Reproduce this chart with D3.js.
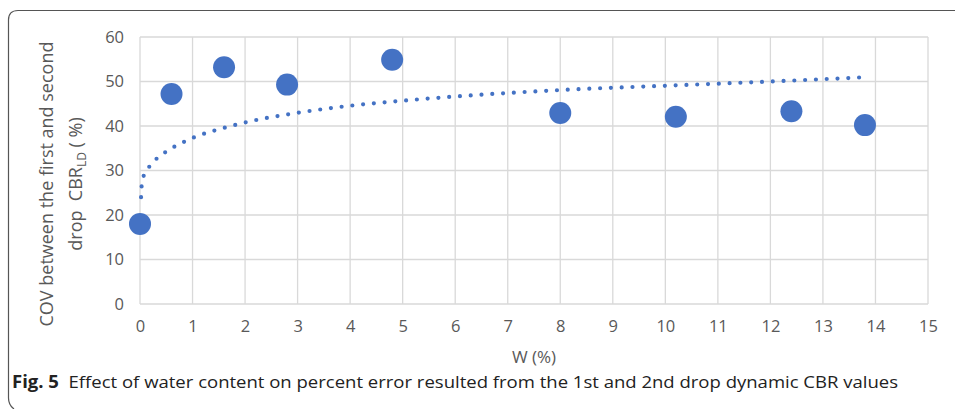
<!DOCTYPE html>
<html>
<head>
<meta charset="utf-8">
<script src="https://cdn.jsdelivr.net/npm/d3@7"></script>
<style>
  body { margin: 0; background: #fff; }
  svg { display: block; }
</style>
</head>
<body>
<div id="chart"></div>
<script>
// measured points: water content W (%) vs COV (%)
const waterContent = [0.0, 0.6, 1.6, 2.8, 4.8, 8.0, 10.2, 12.4, 13.8];
const covValues = [18.0, 47.2, 53.2, 49.3, 54.9, 42.9, 42.1, 43.3, 40.2];

// logarithmic trendline
const trendX = [0.02, 0.03, 0.07, 0.18, 0.32, 0.48, 0.66, 0.85, 1.04, 1.64, 2.04, 2.86, 3.89, 4.92, 5.97, 8.04, 10.13, 12.21, 13.7];
const trendY = [24.0, 26.4, 28.8, 30.9, 32.7, 34.1, 35.4, 36.5, 37.5, 39.7, 40.9, 42.7, 44.4, 45.6, 46.6, 48.1, 49.1, 50.1, 50.9];

const xTicks = d3.range(0, 16, 1);
const yTicks = [0, 10, 20, 30, 40, 50, 60];

const width = 955;
const height = 409;
const blue = '#4472c4';
const grid = '#d9d9d9';
const labelColor = '#595959';
const font = 'Open Sans, sans-serif';

const svg = d3.select('#chart')
  .append('svg')
  .attr('width', width)
  .attr('height', height);

// outer frame (open at right / bottom, like the figure box)
svg.append('path')
  .attr('d', 'M955,10.5 L18,10.5 Q8.5,10.5 8.5,20 L8.5,398 Q8.5,405 14,409')
  .attr('fill', 'none')
  .attr('stroke', '#555')
  .attr('stroke-width', 1.2);

const x = d3.scaleLinear().domain([0, 15]).range([140, 928]);
const y = d3.scaleLinear().domain([0, 60]).range([304, 37]);

// gridlines
svg.append('g')
  .selectAll('line')
  .data(yTicks)
  .enter()
  .append('line')
  .attr('x1', x(0))
  .attr('x2', x(15))
  .attr('y1', d => y(d))
  .attr('y2', d => y(d))
  .attr('stroke', grid)
  .attr('stroke-width', 1.3);

svg.append('g')
  .selectAll('line')
  .data(xTicks)
  .enter()
  .append('line')
  .attr('x1', d => x(d))
  .attr('x2', d => x(d))
  .attr('y1', y(0))
  .attr('y2', y(60))
  .attr('stroke', grid)
  .attr('stroke-width', 1.3);

// axes (labels only)
const xAxis = d3.axisBottom(x).tickValues(xTicks).tickSize(0).tickPadding(0);
const yAxis = d3.axisLeft(y).tickValues(yTicks).tickSize(0).tickPadding(0);

const gx = svg.append('g')
  .attr('transform', `translate(0, ${y(0) + 16})`)
  .call(xAxis);
gx.select('.domain').remove();
gx.selectAll('text')
  .attr('fill', labelColor)
  .attr('font-size', 16.5)
  .attr('font-family', font);

const gy = svg.append('g')
  .attr('transform', `translate(${x(0) - 16}, 0)`)
  .call(yAxis);
gy.select('.domain').remove();
gy.selectAll('text')
  .attr('fill', labelColor)
  .attr('font-size', 16.5)
  .attr('font-family', font);

// axis titles
svg.append('text')
  .text('W (%)')
  .attr('x', 534)
  .attr('y', 363)
  .attr('text-anchor', 'middle')
  .attr('fill', labelColor)
  .attr('font-size', 17)
  .attr('font-family', font);

const yTitle = svg.append('text')
  .attr('transform', 'translate(0, 184) rotate(-90)')
  .attr('text-anchor', 'middle')
  .attr('fill', labelColor)
  .attr('font-size', 18)
  .attr('font-family', font);

yTitle.append('tspan')
  .attr('x', 0)
  .attr('y', 53)
  .text('COV between the first and second');

const line2 = yTitle.append('tspan')
  .attr('x', 0)
  .attr('y', 82);
line2.append('tspan').text('drop \u00a0CBR');
line2.append('tspan').attr('font-size', 12).attr('dy', 4).text('LD');
line2.append('tspan').attr('dy', -4).text(' ( %)');

// trendline
const trendData = trendX.map((d, i) => [d, trendY[i]]);
svg.append('path')
  .datum(trendData)
  .attr('d', d3.line()
    .x(d => x(d[0]))
    .y(d => y(d[1]))
    .curve(d3.curveMonotoneX))
  .attr('fill', 'none')
  .attr('stroke', blue)
  .attr('stroke-width', 4.2)
  .attr('stroke-linecap', 'round')
  .attr('stroke-dasharray', '0 10.8');

// markers
svg.append('g')
  .selectAll('circle')
  .data(waterContent)
  .enter()
  .append('circle')
  .attr('cx', d => x(d))
  .attr('cy', (d, i) => y(covValues[i]))
  .attr('r', 11)
  .attr('fill', blue);

// caption
const caption = svg.append('text')
  .attr('x', 12)
  .attr('y', 388)
  .attr('fill', '#222')
  .attr('font-size', 17)
  .attr('font-family', font)
  .attr('textLength', 886)
  .attr('lengthAdjust', 'spacingAndGlyphs');

caption.append('tspan')
  .attr('font-weight', 'bold')
  .text('Fig. 5');
caption.append('tspan')
  .text('\u00a0 Effect of water content on percent error resulted from the 1st and 2nd drop dynamic CBR values');
</script>
</body>
</html>
